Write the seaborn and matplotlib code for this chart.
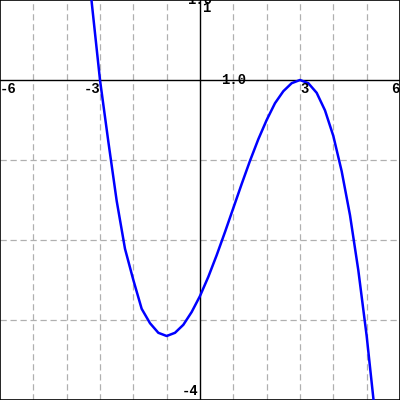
import numpy as np
import pandas as pd
import seaborn as sns
import matplotlib.pyplot as plt

# curve points
x_vals = [-3.4, -3.0, -2.75, -2.5, -2.25, -2.0, -1.75, -1.5, -1.25, -1.0, -0.75, -0.5,
          -0.25, 0.0, 0.25, 0.5, 0.75, 1.0, 1.25, 1.5, 1.75, 2.0, 2.25, 2.5, 2.75,
          3.0, 3.25, 3.5, 3.75, 4.0, 4.25, 4.5, 4.75, 5.0, 5.25, 5.4]
y_vals = [1.56, 0.0, -0.77, -1.51, -2.11, -2.5, -2.86, -3.04, -3.16, -3.2, -3.16, -3.06,
          -2.9, -2.7, -2.46, -2.19, -1.9, -1.6, -1.3, -1.01, -0.74, -0.5, -0.29, -0.14, -0.04,
          0.0, -0.04, -0.16, -0.38, -0.7, -1.14, -1.69, -2.38, -3.2, -4.17, -4.84]

x_ticks = [-6, -3, 3, 6]
x_range = (-6, 6)
y_range = (-4, 1)

df = pd.DataFrame({"x": x_vals, "y": y_vals})

sns.set_style("white")
fig = plt.figure(figsize=(4, 4), dpi=100)
ax = fig.add_axes([0, 0, 1, 1])

# dashed grid every unit
for gx in range(x_range[0] + 1, x_range[1]):
    if gx != 0:
        ax.axvline(gx, color="#b0b0b0", lw=0.9, ls=(0, (5, 3)), zorder=0)
for gy in range(y_range[0] + 1, y_range[1]):
    if gy != 0:
        ax.axhline(gy, color="#b0b0b0", lw=0.9, ls=(0, (5, 3)), zorder=0)

ax.axhline(0, color="black", lw=1.0, zorder=1)
ax.axvline(0, color="black", lw=1.0, zorder=1)

sns.lineplot(data=df, x="x", y="y", color="#0000ff", lw=1.8, sort=False, ax=ax, zorder=3)

ax.set_xlim(*x_range)
ax.set_ylim(*y_range)
ax.set_xticks([])
ax.set_yticks([])
ax.set_xlabel("")
ax.set_ylabel("")
for s in ax.spines.values():
    s.set_color("black")
    s.set_linewidth(1.2)

font = dict(family=["Liberation Mono", "DejaVu Sans Mono"], fontweight="bold", fontsize=10, color="black")
for t in x_ticks:
    ha = "left" if t in (-6, 3) else "right"
    ax.text(t, -0.03, str(t), ha=ha, va="top", zorder=5, **font)
ax.text(0.05, 0.99, "1", ha="left", va="top", zorder=5, **font)
ax.text(0, 1.0, "1.0", ha="center", va="center", zorder=5, **font)
ax.text(1.0, 0.0, "1.0", ha="center", va="center", zorder=5, **font)
ax.text(-0.03, -3.97, "-4", ha="right", va="bottom", zorder=5, **font)

fig.savefig("out.png", dpi=100)
